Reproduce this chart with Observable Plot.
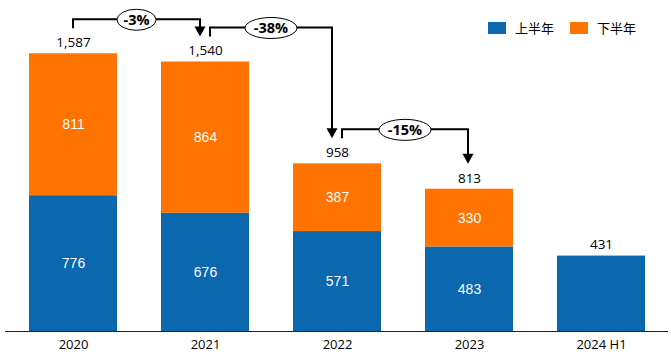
<!DOCTYPE html>
<html>
<head>
<meta charset="utf-8">
<script src="https://cdn.jsdelivr.net/npm/d3@7"></script>
<script src="https://cdn.jsdelivr.net/npm/@observablehq/plot@0.6"></script>
<style>
  body { margin: 0; background: #fff; }
  #wrap { position: relative; width: 671px; height: 354px; }
  #legend { position: absolute; top: 18px; left: 488px; display: flex; align-items: center;
            font-family: "Noto Sans CJK SC", sans-serif; font-size: 13px; color: #000; }
  .sw { display: inline-block; width: 18px; height: 12px; margin-right: 9px; }
  .item { display: flex; align-items: center; margin-right: 16px; }
</style>
</head>
<body>
<div id="wrap"><div id="legend"></div></div>
<script>
const categories = ["2020", "2021", "2022", "2023", "2024 H1"];
const seriesNames = ["上半年", "下半年"];
const firstHalf = [776, 676, 571, 483, 431];
const secondHalf = [811, 864, 387, 330, null];
const changeLabels = ["-3%", "-38%", "-15%"];
const colors = ["#0B67AE", "#FF7300"];

const totals = categories.map((c, i) => firstHalf[i] + (secondHalf[i] ?? 0));
const rows = [];
categories.forEach((c, i) => {
  const single = secondHalf[i] == null;
  rows.push({cat: c, series: seriesNames[0], value: firstHalf[i], showInner: !single});
  if (!single) rows.push({cat: c, series: seriesNames[1], value: secondHalf[i], showInner: true});
});
const totalRows = categories.map((c, i) => ({cat: c, total: totals[i]}));
const changes = changeLabels.map((label, i) => ({from: i, to: i + 1, label}));

const chart = Plot.plot({
  width: 671,
  height: 354,
  marginTop: 16,
  marginBottom: 23,
  marginLeft: 5,
  marginRight: 3,
  style: {fontFamily: "'Open Sans', sans-serif", fontSize: "13px", background: "#fff", color: "#000"},
  x: {domain: categories, paddingInner: 0.336, paddingOuter: 0.168, label: null, tickSize: 0, tickPadding: 8},
  y: {domain: [0, 1800], axis: null},
  color: {domain: seriesNames, range: colors},
  marks: [
    Plot.barY(rows, {x: "cat", y: "value", fill: "series", order: seriesNames}),
    Plot.text(rows, Plot.stackY({x: "cat", y: "value", z: "series", order: seriesNames,
      text: (d) => d.showInner ? d3.format(",")(d.value) : "",
      fill: "#fff", fontFamily: "'Liberation Sans', Arial, sans-serif", fontSize: 14})),
    Plot.text(totalRows, {x: "cat", y: "total", text: (d) => d3.format(",")(d.total), dy: -11, fill: "#000", fontSize: 13.5}),
    Plot.ruleY([0], {stroke: "#222", strokeWidth: 1.2})
  ]
});
document.getElementById("wrap").prepend(chart);

// Annotations drawn with the plot's own scales
const sx = chart.scale("x"), sy = chart.scale("y");
const bw = sx.bandwidth ?? 0;
const cx = (c) => sx.apply(c) + bw / 2;
const y = (v) => sy.apply(v);
const g = d3.select(chart).append("g");
changes.forEach((ch, k) => {
  const hasIncoming = k > 0;
  const hasOutgoing = k + 1 < changes.length;
  const xa = cx(categories[ch.from]) + (hasIncoming ? 5 : 0);
  const xb = cx(categories[ch.to]) - (hasOutgoing ? 5 : 1);
  const ya = y(totals[ch.from]) - 25;
  const yb = y(totals[ch.to]) - 25;
  const yh = Math.min(y(totals[ch.from]), y(totals[ch.to])) - 34;
  g.append("path")
    .attr("d", `M${xa},${ya}V${yh}H${xb}V${yb - 9}`)
    .attr("fill", "none").attr("stroke", "#000").attr("stroke-width", 2);
  g.append("path")
    .attr("d", `M${xb - 5.5},${yb - 10}L${xb + 5.5},${yb - 10}L${xb},${yb}Z`)
    .attr("fill", "#000");
  const mx = (xa + xb) / 2;
  const rx = 6.5 * ch.label.length;
  g.append("ellipse").attr("cx", mx).attr("cy", yh + 0.5).attr("rx", rx).attr("ry", 10.5)
    .attr("fill", "#fff").attr("stroke", "#000").attr("stroke-width", 1);
  g.append("text").attr("x", mx).attr("y", yh + 0.5).attr("dy", "0.35em")
    .attr("text-anchor", "middle")
    .attr("font-family", "'Open Sans', sans-serif").attr("font-weight", "bold")
    .attr("font-size", 14.5).attr("fill", "#000").text(ch.label);
});

const legend = document.getElementById("legend");
seriesNames.forEach((s, i) => {
  const item = document.createElement("div");
  item.className = "item";
  const sw = document.createElement("span");
  sw.className = "sw";
  sw.style.background = colors[i];
  item.appendChild(sw);
  item.appendChild(document.createTextNode(s));
  legend.appendChild(item);
});
</script>
</body>
</html>
